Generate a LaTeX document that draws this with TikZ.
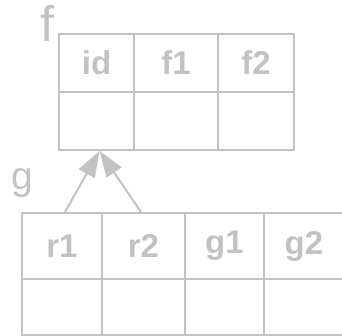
\documentclass[tikz,border=0pt]{standalone}
\usepackage{fontspec}
\setmainfont{Liberation Sans}
\usetikzlibrary{arrows.meta}
\definecolor{lg}{HTML}{C2C2C2}
\tikzset{
  cell/.style={draw=lg, line width=2.2pt, inner sep=0pt, outer sep=0pt, text=lg,
    font=\fontsize{33}{33}\selectfont\bfseries, anchor=center},
  lbl/.style={text=lg, inner sep=0pt},
  arr/.style={draw=lg, line width=2pt, -{Triangle[length=26pt,width=18pt]}},
}
\begin{document}
\begin{tikzpicture}[x=1pt,y=-1pt]
\useasboundingbox (0,0) rectangle (342,336);
% top table f
\node[cell, minimum width=75pt, minimum height=58pt] (id) at (96.5,63) {id};
\node[cell, minimum width=84pt, minimum height=58pt] (f1) at (176,63) {f1};
\node[cell, minimum width=76pt, minimum height=58pt] (f2) at (256,63) {f2};
\node[cell, minimum width=75pt, minimum height=58pt] (id2) at (96.5,121) {};
\node[cell, minimum width=84pt, minimum height=58pt] (f12) at (176,121) {};
\node[cell, minimum width=76pt, minimum height=58pt] (f22) at (256,121) {};
\node[lbl, font=\fontsize{50}{50}\selectfont, anchor=base] (flab) at (47.5,42) {f};
% bottom table g
\node[cell, minimum width=80pt, minimum height=66pt] (r1) at (62,246) {r1};
\node[cell, minimum width=83pt, minimum height=66pt] (r2) at (143.5,246) {r2};
\node[cell, minimum width=79pt, minimum height=66pt] (g1) at (224.5,246) {g1};
\node[cell, minimum width=80pt, minimum height=66pt] (g2) at (304,246) {g2};
\node[cell, minimum width=80pt, minimum height=56pt] (r1b) at (62,307) {};
\node[cell, minimum width=83pt, minimum height=56pt] (r2b) at (143.5,307) {};
\node[cell, minimum width=79pt, minimum height=56pt] (g1b) at (224.5,307) {};
\node[cell, minimum width=80pt, minimum height=56pt] (g2b) at (304,307) {};
\node[lbl, font=\fontsize{39}{39}\selectfont, anchor=base] (glab) at (22,190) {g};
% arrows
\coordinate (tip) at (99.5,151);
\coordinate (s1) at (65,212);
\coordinate (s2) at (141,212);
\draw[arr] (s1) -- (tip);
\draw[arr] (s2) -- (tip);
\end{tikzpicture}
\end{document}
